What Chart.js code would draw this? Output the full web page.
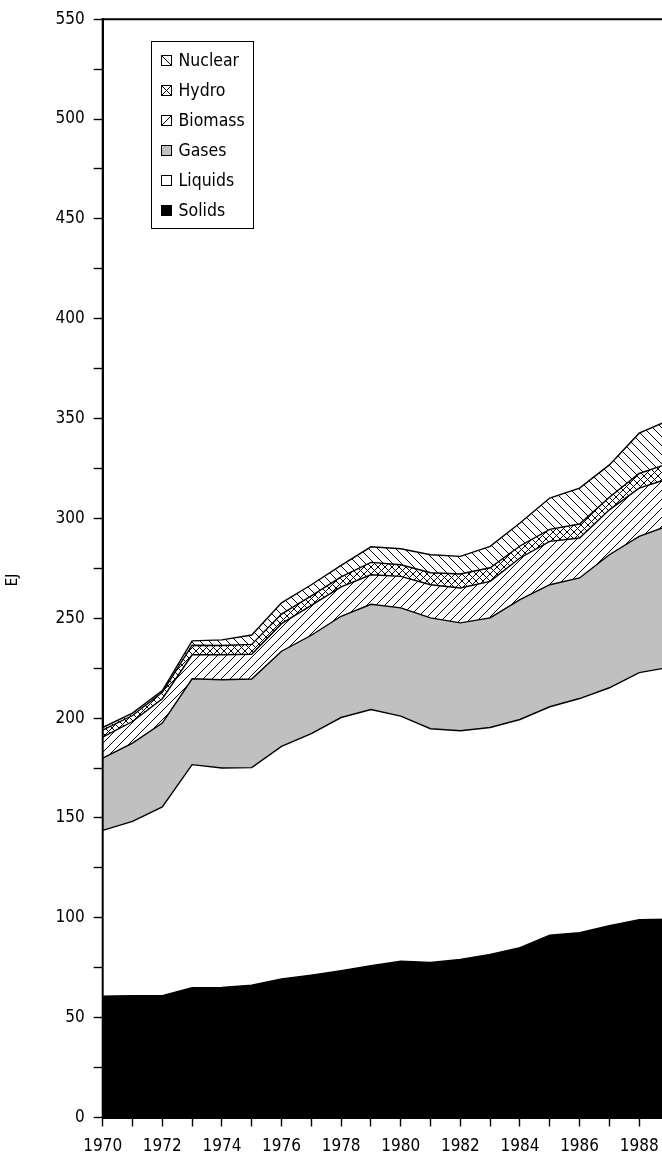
<!DOCTYPE html>
<html><head><meta charset="utf-8">
<script src="https://cdn.jsdelivr.net/npm/chart.js@4.4.1/dist/chart.umd.min.js"></script>
<style>
html,body{margin:0;padding:0;background:#fff;overflow:hidden}
#wrap{width:662px;height:1157px;overflow:hidden;position:relative;background:#fff}
canvas{display:block}
</style></head>
<body><div id="wrap"><canvas id="c" width="700" height="1157" style="width:700px;height:1157px"></canvas></div>
<script>
// ---- data (EJ per year, stacked bottom to top) ----
const years   = [1970,1971,1972,1973,1974,1975,1976,1977,1978,1979,1980,1981,1982,1983,1984,1985,1986,1987,1988,1989];
const solids  = [60.8,61.0,61.0,65.0,65.1,66.3,69.4,71.3,73.5,76.0,78.3,77.6,79.1,81.6,85.0,91.3,92.5,96.0,99.0,99.3];
const liquids = [83.0,87.3,94.5,111.7,109.9,108.9,116.4,120.9,126.8,128.3,122.7,117.1,114.6,113.7,114.3,114.4,117.3,119.2,123.8,126.1];
const gases   = [36.2,39.2,42.0,43.0,44.2,44.4,47.7,49.3,50.7,52.7,54.2,55.5,54.0,54.9,60.0,61.1,60.4,66.6,68.2,71.1];
const biomass = [10.5,10.8,12.2,12.0,12.5,12.4,13.8,15.0,14.7,14.8,15.8,16.6,17.5,18.3,20.9,21.7,20.0,22.5,24.2,23.5];
const hydro   = [3.5,3.0,3.2,4.8,4.7,4.9,4.8,4.7,5.0,6.2,5.8,6.0,7.0,6.8,6.0,6.0,7.0,6.3,7.3,7.6];
const nuclear = [1.3,1.2,0.9,2.2,2.8,4.7,5.6,5.6,5.8,7.8,8.0,9.0,8.8,10.7,11.5,15.7,18.0,16.2,20.2,21.6];
const seriesNames = ['Solids','Liquids','Gases','Biomass','Hydro','Nuclear'];
const yTickStep = 25, yLabelStep = 50, yMin = 0, yMax = 550;
const xLabelStep = 2;
const yAxisTitle = 'EJ';

const FONT = "'DejaVu Sans Condensed','DejaVu Sans',sans-serif";

function hatch(kind, size) {
  const c = document.createElement('canvas');
  c.width = size; c.height = size;
  const g = c.getContext('2d');
  g.fillStyle = '#fff'; g.fillRect(0, 0, size, size);
  g.strokeStyle = '#000'; g.lineWidth = 1;
  g.beginPath();
  if (kind === 'back' || kind === 'cross') {
    g.moveTo(-1, -1); g.lineTo(size + 1, size + 1);
    g.moveTo(-1, size - 1); g.lineTo(1, size + 1);
    g.moveTo(size - 1, -1); g.lineTo(size + 1, 1);
  }
  if (kind === 'fwd' || kind === 'cross') {
    g.moveTo(-1, size + 1); g.lineTo(size + 1, -1);
    g.moveTo(-1, 1); g.lineTo(1, -1);
    g.moveTo(size - 1, size + 1); g.lineTo(size + 1, size - 1);
  }
  g.stroke();
  return g.createPattern(c, 'repeat');
}

const styles = {
  Solids:  { fill: '#000000', mark: 'solid' },
  Liquids: { fill: '#ffffff', mark: 'solid' },
  Gases:   { fill: '#c0c0c0', mark: 'solid' },
  Biomass: { fill: hatch('fwd', 9), mark: 'fwd' },
  Hydro:   { fill: hatch('cross', 7), mark: 'cross' },
  Nuclear: { fill: hatch('back', 9), mark: 'back' }
};
const values = { Solids: solids, Liquids: liquids, Gases: gases, Biomass: biomass, Hydro: hydro, Nuclear: nuclear };

const datasets = seriesNames.map((name, i) => ({
  label: name,
  data: years.map((yr, k) => ({ x: yr, y: values[name][k] })),
  backgroundColor: styles[name].fill,
  borderColor: '#000',
  borderWidth: 1.4,
  pointRadius: 0,
  tension: 0,
  fill: i === 0 ? 'origin' : '-1'
}));

const framePlugin = {
  id: 'frame',
  afterDraw(chart) {
    const ctx = chart.ctx, a = chart.chartArea;
    ctx.save();
    ctx.strokeStyle = '#000'; ctx.lineWidth = 2;
    // left axis line (redrawn above fills) and top frame line
    ctx.beginPath();
    ctx.moveTo(a.left, a.bottom); ctx.lineTo(a.left, a.top - 1);
    ctx.moveTo(a.left - 1, a.top); ctx.lineTo(a.right + 1, a.top);
    ctx.stroke();
    // y-axis title
    ctx.fillStyle = '#000';
    ctx.font = '15px ' + FONT;
    ctx.textAlign = 'center'; ctx.textBaseline = 'middle';
    ctx.translate(13, 580); ctx.rotate(-Math.PI / 2);
    ctx.fillText(yAxisTitle, 0, 0);
    ctx.restore();

    // legend (reverse order: top of stack first)
    ctx.save();
    const lx = 151.5, ly = 41.5, lw = 102, lh = 187;
    ctx.fillStyle = '#fff'; ctx.fillRect(lx, ly, lw, lh);
    ctx.strokeStyle = '#000'; ctx.lineWidth = 1;
    ctx.strokeRect(lx, ly, lw, lh);
    const names = chart.data.datasets.map(d => d.label).reverse();
    ctx.font = '17.5px ' + FONT;
    ctx.textAlign = 'left'; ctx.textBaseline = 'middle';
    names.forEach((name, i) => {
      const cy = 61 + i * 30;
      const bx = 161.5, by = cy - 5.5, bs = 10;
      const st = styles[name];
      ctx.fillStyle = st.mark === 'solid' ? st.fill : '#fff';
      ctx.fillRect(bx, by, bs, bs);
      ctx.strokeStyle = '#000'; ctx.lineWidth = 1;
      ctx.strokeRect(bx, by, bs, bs);
      ctx.beginPath();
      if (st.mark === 'back' || st.mark === 'cross') { ctx.moveTo(bx, by); ctx.lineTo(bx + bs, by + bs); }
      if (st.mark === 'fwd' || st.mark === 'cross') { ctx.moveTo(bx, by + bs); ctx.lineTo(bx + bs, by); }
      ctx.stroke();
      ctx.fillStyle = '#000';
      ctx.fillText(name, 178.5, cy + 0.5);
    });
    ctx.restore();
  }
};

new Chart(document.getElementById('c'), {
  type: 'line',
  data: { datasets },
  options: {
    responsive: false,
    animation: false,
    devicePixelRatio: 1,
    layout: { padding: { left: 0, top: 18.3, right: 31, bottom: 0 } },
    plugins: { legend: { display: false }, tooltip: { enabled: false } },
    scales: {
      x: {
        type: 'linear',
        min: years[0], max: years[years.length - 1],
        afterFit: s => { s.height = 39.5; },
        grid: { drawOnChartArea: false, drawTicks: true, tickLength: 9, tickColor: '#000', tickWidth: 1.4 },
        border: { display: true, color: '#000', width: 2 },
        ticks: {
          stepSize: 1, autoSkip: false, maxRotation: 0, color: '#000', padding: 10,
          font: { family: FONT, size: 17 },
          callback: v => ((v - years[0]) % xLabelStep === 0 ? String(v) : '')
        }
      },
      y: {
        stacked: true,
        min: yMin, max: yMax,
        afterFit: s => { s.width = 102.7; },
        grid: { drawOnChartArea: false, drawTicks: true, tickLength: 9, tickColor: '#000', tickWidth: 1.4 },
        border: { display: true, color: '#000', width: 2 },
        ticks: {
          stepSize: yTickStep, autoSkip: false, color: '#000', padding: 9,
          font: { family: FONT, size: 17 },
          callback: v => (v % yLabelStep === 0 ? String(v) : '')
        }
      }
    }
  },
  plugins: [framePlugin]
});
</script>
</body></html>
